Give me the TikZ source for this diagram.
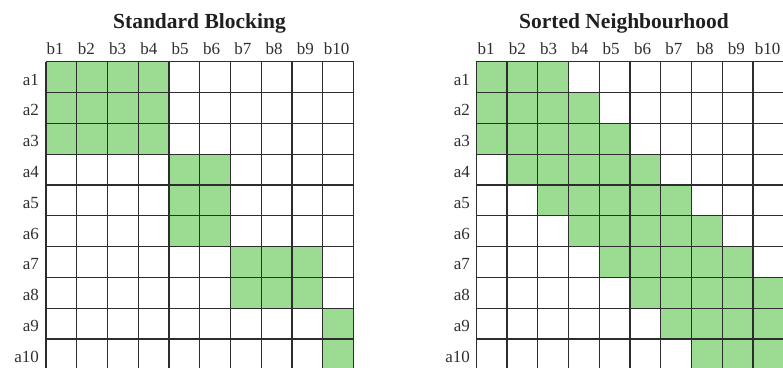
\documentclass[tikz,border=0pt]{standalone}
\usepackage{fontspec}
\setmainfont{Liberation Serif}
\definecolor{pairgreen}{RGB}{155,219,146}
\definecolor{gridgray}{RGB}{45,45,45}
\tikzstyle{plottitle} = [font=\fontsize{21.5}{24}\selectfont\bfseries, text=black!88, anchor=base, inner sep=0pt]
\tikzstyle{collabel} = [font=\fontsize{17}{19}\selectfont, text=black!82, anchor=base, inner sep=0pt]
\tikzstyle{rowlabel} = [font=\fontsize{17}{19}\selectfont, text=black!82, anchor=base east, inner sep=0pt]
\tikzstyle{paircell} = [fill=pairgreen]
\tikzstyle{gridline} = [draw=gridgray, line width=1.2pt]
\begin{document}
\begin{tikzpicture}[x=1pt, y=-1pt]
\useasboundingbox (0,0) rectangle (783,367);
\clip (0,0) rectangle (783,367);

% standard blocking
\node (sbtitle) [plottitle] at (199.5,28.3) {Standard Blocking};
\foreach \i in {1,...,10}
{
  \node (sbcol\i) [collabel] at ({55+(\i-1)*31.3},54.5) {b\i};
  \node (sbrow\i) [rowlabel] at (39,{61.7+(\i-0.5)*30.8+8}) {a\i};
}
\begin{scope}[shift={(46,61.7)}, x=30.75pt, y=-30.8pt]
\foreach \r/\cs/\ce in {1/1/4,2/1/4,3/1/4,4/5/6,5/5/6,6/5/6,7/7/9,8/7/9,9/10/10,10/10/10}
  \fill [paircell] (\cs-1,\r-1) rectangle (\ce,\r);
\foreach \k in {0,...,10}
{
  \draw [gridline] (\k,0) -- (\k,10);
  \draw [gridline] (0,\k) -- (10,\k);
}
\end{scope}

% sorted neighbourhood, window of 3
\node (sntitle) [plottitle] at (624,28.3) {Sorted Neighbourhood};
\foreach \i in {1,...,10}
{
  \node (sncol\i) [collabel] at ({486+(\i-1)*31.3},54.5) {b\i};
  \node (snrow\i) [rowlabel] at (470,{61.7+(\i-0.5)*30.8+8}) {a\i};
}
\begin{scope}[shift={(476.3,61.7)}, x=30.75pt, y=-30.8pt]
\foreach \r/\cs/\ce in {1/1/3,2/1/4,3/1/5,4/2/6,5/3/7,6/4/8,7/5/9,8/6/10,9/7/10,10/8/10}
  \fill [paircell] (\cs-1,\r-1) rectangle (\ce,\r);
\foreach \k in {0,...,10}
{
  \draw [gridline] (\k,0) -- (\k,10);
  \draw [gridline] (0,\k) -- (10,\k);
}
\end{scope}
\end{tikzpicture}
\end{document}
